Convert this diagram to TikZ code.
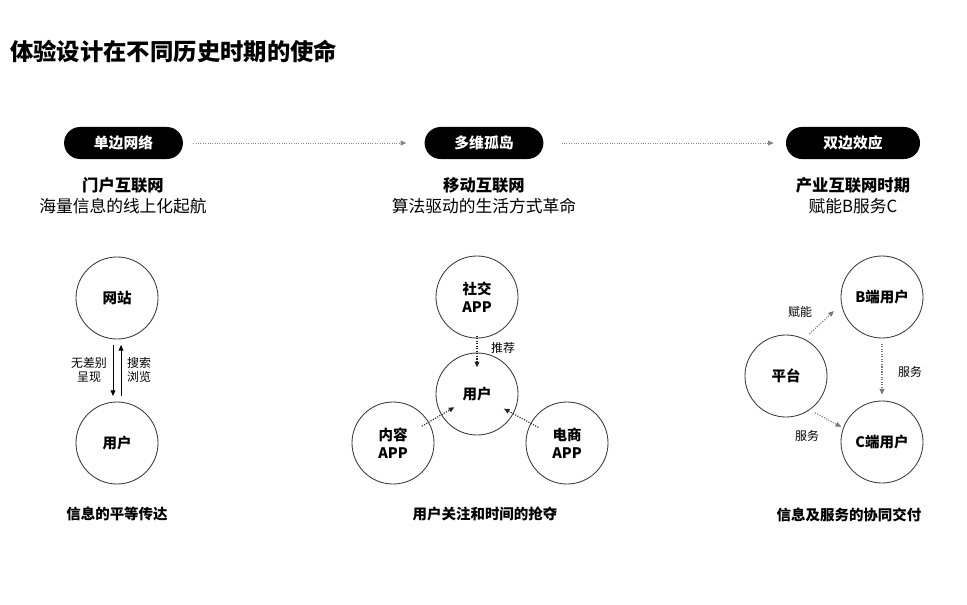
\documentclass[tikz,border=0pt]{standalone}
\usepackage{fontspec}
\setmainfont{Noto Sans CJK SC}
\usepackage{xcolor}
\usetikzlibrary{positioning,arrows.meta}
\definecolor{ringgray}{HTML}{3A3A3A}
\definecolor{dotgray}{HTML}{858585}
\tikzset{
    pagetitle/.style={anchor=west, inner sep=0pt, font=\bfseries\fontsize{16.6}{19}\selectfont},
    phasepill/.style={fill=black, text=white, rounded corners=0.4cm, minimum width=2.97cm, minimum height=0.8cm, inner sep=0pt, font=\bfseries\fontsize{10.5}{12}\selectfont},
    phaseflow/.style={draw=dotgray, densely dotted, line width=0.7pt, -{Triangle[length=1.4mm, width=1.2mm]}},
    eratitle/.style={inner sep=0pt, font=\bfseries\fontsize{11.6}{13}\selectfont},
    erasub/.style={inner sep=0pt, font=\fontsize{11.9}{13}\selectfont},
    rolecircle/.style={draw=ringgray, line width=0.6pt, circle, minimum size=2.05cm, inner sep=0pt, align=center, font=\bfseries\fontsize{10.3}{12.5}\selectfont},
    flowlabel/.style={inner sep=0pt, align=center, font=\fontsize{8.5}{10.6}\selectfont},
    caption/.style={inner sep=0pt, font=\bfseries\fontsize{10.3}{12}\selectfont},
    solidflow/.style={draw=black, line width=0.7pt, -{Triangle[length=1.4mm, width=1.2mm]}, shorten <=0.14cm, shorten >=0.14cm},
    pushflow/.style={draw=black!85, densely dotted, line width=0.8pt, -{Triangle[length=1.4mm, width=1.2mm]}},
    serveflow/.style={draw=dotgray!90!black, densely dotted, line width=0.8pt, -{Triangle[length=1.4mm, width=1.2mm]}}
}
\begin{document}
\begin{tikzpicture}[x=0.025cm, y=-0.025cm]
    \useasboundingbox[fill=white] (0,0) rectangle (967,605);
    \node[pagetitle] (title) at (10,51) {体验设计在不同历史时期的使命};

    % three periods
    \node[phasepill] (single) at (123.5,143) {单边网络};
    \node[phasepill] (multi) at (484,143) {多维孤岛};
    \node[phasepill, minimum width=3.35cm] (double) at (853,143) {双边效应};
    \draw[phaseflow, shorten <=0.25cm, shorten >=0.45cm] (single) -- (multi);
    \draw[phaseflow, shorten <=0.45cm, shorten >=0.3cm] (multi) -- (double);

    \node[eratitle] (portal) at (123,185) {门户互联网};
    \node[erasub] (portalsub) at (123,206) {海量信息的线上化起航};
    \node[eratitle] (mobile) at (484,185) {移动互联网};
    \node[erasub] (mobilesub) at (484,206) {算法驱动的生活方式革命};
    \node[eratitle] (industry) at (853,185) {产业互联网时期};
    \node[erasub] (industrysub) at (853,206) {赋能B服务C};

    % portal era
    \node[rolecircle] (site) at (117,298) {网站};
    \node[rolecircle] (siteuser) at (117,443) {用户};
    \draw[solidflow] ([xshift=-0.1cm]site.south) -- ([xshift=-0.1cm]siteuser.north);
    \draw[solidflow] ([xshift=0.1cm]siteuser.north) -- ([xshift=0.1cm]site.south);
    \node[flowlabel] (showlbl) at (89,370) {无差别\\呈现};
    \node[flowlabel] (searchlbl) at (139,370) {搜索\\浏览};
    \node[caption] (portalcap) at (117,514) {信息的平等传达};

    % mobile era
    \node[rolecircle] (social) at (477,297) {社交\\APP};
    \node[rolecircle] (appuser) at (477,394) {用户};
    \node[rolecircle] (content) at (393,443) {内容\\APP};
    \node[rolecircle] (shop) at (567,443) {电商\\APP};
    \draw[pushflow, shorten <=-0.07cm, shorten >=-0.37cm] (social) -- (appuser);
    \draw[pushflow, shorten <=-0.2cm, shorten >=-0.38cm] (content) -- (appuser);
    \draw[pushflow, shorten <=-0.22cm, shorten >=-0.27cm] (shop) -- (appuser);
    \node[flowlabel] (recolbl) at (503,348) {推荐};
    \node[caption] (mobilecap) at (485,514) {用户关注和时间的抢夺};

    % industry era
    \node[rolecircle] (platform) at (786,376) {平台};
    \node[rolecircle] (bside) at (882,297) {B端用户};
    \node[rolecircle] (cside) at (882,442) {C端用户};
    \draw[serveflow, shorten <=0.18cm, shorten >=0.25cm] (platform.64) -- (bside.190);
    \draw[serveflow, shorten <=0.15cm, shorten >=0.05cm] (platform.-55) -- (cside.160);
    \draw[serveflow, shorten <=0.13cm, shorten >=0.15cm] (bside) -- (cside);
    \node[flowlabel] (enablelbl) at (800,312) {赋能};
    \node[flowlabel] (servelbl) at (910,372) {服务};
    \node[flowlabel] (servelbl2) at (807,436) {服务};
    \node[caption] (industrycap) at (849,515) {信息及服务的协同交付};
\end{tikzpicture}
\end{document}
